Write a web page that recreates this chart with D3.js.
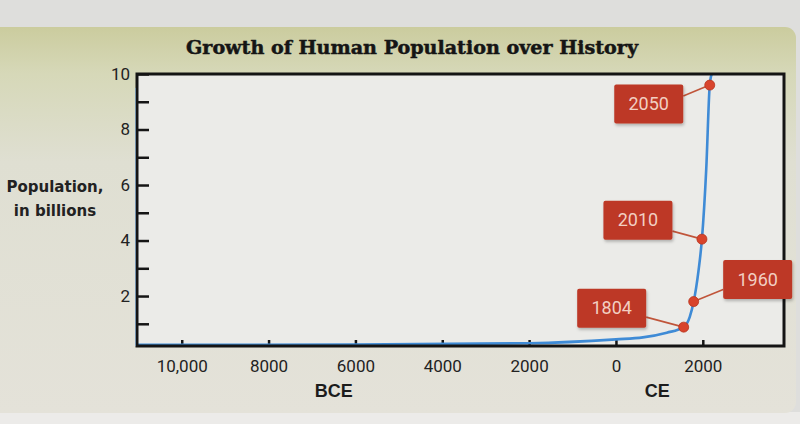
<!DOCTYPE html>
<html>
<head>
<meta charset="utf-8">
<script src="https://cdn.jsdelivr.net/npm/d3@7/dist/d3.min.js"></script>
<style>
  html, body { margin: 0; padding: 0; background: #e2e2e0; }
  svg { display: block; }
</style>
</head>
<body>
<svg id="chart" width="800" height="424"></svg>
<script>
// ---------- DATA ----------
const title = "Growth of Human Population over History";
const yLabelLines = ["Population,", "in billions"];
// curve (x = position on the time axis in years, negative = BCE; y = billions)
const curveYears = [-11030, -10000, -6000, -2000, 0, 620, 1170, 1560, 1700, 1790, 1900, 1980, 2080, 2160, 2205];
const curvePop   = [0.24, 0.24, 0.25, 0.3, 0.44, 0.51, 0.68, 0.88, 1.25, 1.8, 2.9, 4.05, 6.6, 9.6, 10.0];
// highlighted points
const pointLabels = ["1804", "1960", "2010", "2050"];
const pointYears  = [1560, 1790, 1980, 2160];
const pointPop    = [0.88, 1.8, 4.05, 9.6];
// axes
const xTickValues = [-10000, -8000, -6000, -4000, -2000, 0, 2000];
const xTickLabels = ["10,000", "8000", "6000", "4000", "2000", "0", "2000"];
const yMajorTicks = [2, 4, 6, 8, 10];
const yMinorTicks = [1, 3, 5, 7, 9];
const eraLabels = ["BCE", "CE"];
const eraCenters = [-6500, 950];

// ---------- LAYOUT ----------
const plot = { left: 137, right: 784, top: 74, bottom: 346 };
// annotation box offsets relative to their point (dx, dy of box center) and connector anchor
const annot = [
  { dx: -72, dy: -19, side: "right", ay: 9 },   // 1804
  { dx: 64,  dy: -22, side: "left",  ay: 10 },  // 1960
  { dx: -64, dy: -19, side: "right", ay: 11 },  // 2010
  { dx: -61, dy: 19,  side: "right", ay: -8 }   // 2050
];
const boxW = 69, boxH = 39;

const svg = d3.select("#chart");
const defs = svg.append("defs");
const grad = defs.append("linearGradient").attr("id", "panelGrad")
  .attr("x1", 0).attr("y1", 0).attr("x2", 0).attr("y2", 1);
grad.append("stop").attr("offset", "0%").attr("stop-color", "#cbcc9e");
grad.append("stop").attr("offset", "12%").attr("stop-color", "#d6d8b8");
grad.append("stop").attr("offset", "35%").attr("stop-color", "#dfdfd2");
grad.append("stop").attr("offset", "100%").attr("stop-color", "#e4e2d9");

const shadow = defs.append("filter").attr("id", "boxShadow")
  .attr("x", "-20%").attr("y", "-20%").attr("width", "150%").attr("height", "150%");
shadow.append("feDropShadow").attr("dx", 1).attr("dy", 2).attr("stdDeviation", 1.5)
  .attr("flood-color", "#000").attr("flood-opacity", 0.25);

// backgrounds
svg.append("rect").attr("x", 0).attr("y", 0).attr("width", 800).attr("height", 424).attr("fill", "#dededc");
svg.append("rect").attr("x", 0).attr("y", 412).attr("width", 800).attr("height", 12).attr("fill", "#ecebe9");
svg.append("rect").attr("x", -12).attr("y", 27).attr("width", 808).attr("height", 386)
  .attr("rx", 11).attr("fill", "url(#panelGrad)");
svg.append("rect").attr("x", plot.left).attr("y", plot.top)
  .attr("width", plot.right - plot.left).attr("height", plot.bottom - plot.top)
  .attr("fill", "#ebebe8");

// ---------- SCALES ----------
const x = d3.scaleLinear().domain([-11030, 3870]).range([plot.left, plot.right]);
const y = d3.scaleLinear().domain([0.2, 10]).range([plot.bottom, plot.top]);

// title
svg.append("text").attr("x", 412).attr("y", 54)
  .attr("text-anchor", "middle")
  .attr("font-family", "'DejaVu Serif', serif")
  .attr("font-weight", "bold").attr("font-size", 19)
  .attr("textLength", 452).attr("lengthAdjust", "spacingAndGlyphs")
  .attr("fill", "#151515").attr("stroke", "#151515").attr("stroke-width", 0.5)
  .text(title);

// y-axis label
const yl = svg.append("text").attr("text-anchor", "middle")
  .attr("font-family", "'DejaVu Sans', sans-serif").attr("font-weight", "bold")
  .attr("font-size", 15).attr("fill", "#222");
yLabelLines.forEach((t, i) => {
  yl.append("tspan").attr("x", 55).attr("y", 192 + i * 24).text(t);
});

// ---------- Y AXIS ----------
const yAxis = d3.axisRight(y).tickValues(yMajorTicks.concat(yMinorTicks)).tickSize(12)
  .tickFormat(d => yMajorTicks.includes(d) ? d : "");
const gy = svg.append("g").attr("transform", `translate(${plot.left},0)`).call(yAxis);
gy.select(".domain").remove();
gy.selectAll(".tick line").attr("stroke", "#151515").attr("stroke-width", 2.5);
gy.selectAll(".tick text").attr("x", -7).attr("text-anchor", "end")
  .attr("font-family", "Roboto, 'Liberation Sans', sans-serif").attr("font-size", 17)
  .attr("fill", "#222");

// ---------- X AXIS ----------
const xAxis = d3.axisTop(x).tickValues(xTickValues).tickSize(6)
  .tickFormat((d, i) => xTickLabels[i]);
const gx = svg.append("g").attr("transform", `translate(0,${plot.bottom})`).call(xAxis);
gx.select(".domain").remove();
gx.selectAll(".tick line").attr("stroke", "#151515").attr("stroke-width", 2.5);
gx.selectAll(".tick text").attr("y", 26).attr("dy", 0)
  .attr("font-family", "Roboto, 'Liberation Sans', sans-serif").attr("font-size", 17)
  .attr("fill", "#222");

// era labels
svg.selectAll(".era").data(eraLabels).enter().append("text")
  .attr("class", "era")
  .attr("x", (d, i) => x(eraCenters[i])).attr("y", 397)
  .attr("text-anchor", "middle")
  .attr("font-family", "'Liberation Sans', Arial, sans-serif").attr("font-weight", "bold")
  .attr("font-size", 18).attr("fill", "#1c1c1c")
  .text(d => d);

// ---------- CURVE ----------
const curveData = curveYears.map((yr, i) => ({ x: yr, y: curvePop[i] }));
const line = d3.line().x(d => x(d.x)).y(d => y(d.y)).curve(d3.curveMonotoneX);
svg.append("path").datum(curveData)
  .attr("d", line).attr("fill", "none")
  .attr("stroke", "#3f8bd6").attr("stroke-width", 2.6);

// plot frame
svg.append("rect").attr("x", plot.left).attr("y", plot.top)
  .attr("width", plot.right - plot.left).attr("height", plot.bottom - plot.top)
  .attr("fill", "none").attr("stroke", "#141414").attr("stroke-width", 3);
// blue tint along left axis like the reference
svg.append("line").attr("x1", plot.left - 1.5).attr("x2", plot.left - 1.5)
  .attr("y1", y(9.5)).attr("y2", plot.bottom)
  .attr("stroke", "#6f9fd0").attr("stroke-width", 1).attr("opacity", 0.6);

// ---------- ANNOTATIONS ----------
const pts = pointLabels.map((lab, i) => ({ label: lab, x: pointYears[i], y: pointPop[i], a: annot[i] }));

const ag = svg.append("g");
pts.forEach(p => {
  const px = x(p.x), py = y(p.y);
  const cx = px + p.a.dx, cy = py + p.a.dy;
  const ax = p.a.side === "right" ? cx + boxW / 2 : cx - boxW / 2;
  ag.append("line").attr("x1", ax).attr("y1", cy + p.a.ay).attr("x2", px).attr("y2", py)
    .attr("stroke", "#c0553a").attr("stroke-width", 1.6);
  ag.append("rect").attr("x", cx - boxW / 2).attr("y", cy - boxH / 2)
    .attr("width", boxW).attr("height", boxH).attr("rx", 2)
    .attr("fill", "#bd3826").attr("filter", "url(#boxShadow)");
  ag.append("text").attr("x", cx).attr("y", cy + 6)
    .attr("text-anchor", "middle")
    .attr("font-family", "Roboto, 'Liberation Sans', sans-serif").attr("font-size", 18)
    .attr("fill", "#f2cfc2").text(p.label);
});
ag.selectAll("circle").data(pts).enter().append("circle")
  .attr("cx", d => x(d.x)).attr("cy", d => y(d.y)).attr("r", 5)
  .attr("fill", "#d8442c").attr("stroke", "#b8361f").attr("stroke-width", 0.8);
</script>
</body>
</html>
